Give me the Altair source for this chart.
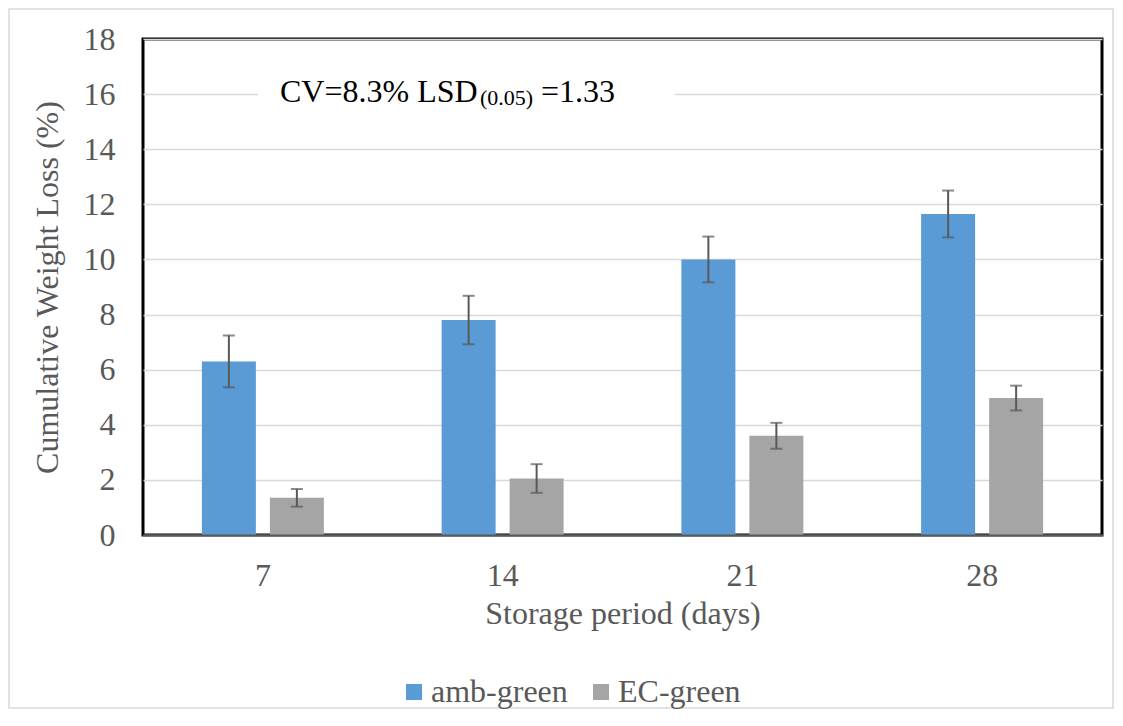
import altair as alt
import pandas as pd

days = ["7", "14", "21", "28"]
series = ["amb-green", "EC-green"]
amb_values = [6.3, 7.8, 10.0, 11.65]
ec_values = [1.35, 2.05, 3.6, 4.97]
amb_err = [0.94, 0.88, 0.83, 0.85]
ec_err = [0.32, 0.52, 0.47, 0.45]
colors = ["#5B9BD5", "#A5A5A5"]
y_ticks = [0, 2, 4, 6, 8, 10, 12, 14, 16, 18]

rows = []
for d, v, e in zip(days, amb_values, amb_err):
    rows.append({"day": d, "series": series[0], "value": v, "err": e})
for d, v, e in zip(days, ec_values, ec_err):
    rows.append({"day": d, "series": series[1], "value": v, "err": e})
df = pd.DataFrame(rows)

FONT = "'Liberation Serif', 'Times New Roman', Times, serif"
FS = 32
W, H = 959, 496

x_enc = alt.X("day:N", sort=days,
              scale=alt.Scale(paddingInner=0, paddingOuter=0),
              axis=alt.Axis(title="Storage period (days)", labelAngle=0, tickSize=0,
                            labelPadding=25, titlePadding=7, domainColor="#595959",
                            domainWidth=2, zindex=1, grid=False))
xo_enc = alt.XOffset("series:N", sort=series,
                     scale=alt.Scale(paddingInner=0.206, paddingOuter=0.866))

base = alt.Chart(df)

bars = base.mark_bar().encode(
    x=x_enc,
    xOffset=xo_enc,
    y=alt.Y("value:Q", scale=alt.Scale(domain=[0, 18], nice=False),
            axis=alt.Axis(title="Cumulative Weight Loss (%)", values=y_ticks, tickSize=0,
                          labelPadding=28, titlePadding=19, domain=False,
                          gridColor="#D9D9D9", gridWidth=1.5)),
    color=alt.Color("series:N", sort=series,
                    scale=alt.Scale(domain=series, range=colors),
                    legend=alt.Legend(title=None, orient="none", direction="horizontal",
                                      legendX=255, legendY=637, symbolType="square",
                                      symbolSize=256, symbolStrokeWidth=0,
                                      labelFont=FONT, labelFontSize=FS, labelColor="#595959",
                                      labelOffset=1, columnPadding=17, padding=0)),
)

err = base.transform_calculate(
    lo="datum.value - datum.err", hi="datum.value + datum.err"
)
rules = err.mark_rule(color="#595959", strokeWidth=2).encode(
    x=alt.X("day:N", sort=days), xOffset=alt.XOffset("series:N", sort=series),
    y="lo:Q", y2="hi:Q")
caps_hi = err.mark_tick(color="#595959", thickness=2, size=12, orient="horizontal").encode(
    x=alt.X("day:N", sort=days), xOffset=alt.XOffset("series:N", sort=series), y="hi:Q")
caps_lo = err.mark_tick(color="#595959", thickness=2, size=12, orient="horizontal").encode(
    x=alt.X("day:N", sort=days), xOffset=alt.XOffset("series:N", sort=series), y="lo:Q")

one = alt.Chart(pd.DataFrame({"a": [0]}))
outer = one.mark_rect(filled=False, stroke="#D9D9D9", strokeWidth=1.5).encode(
    x=alt.value(-134), x2=alt.value(970), y=alt.value(-30), y2=alt.value(669))
box = one.mark_rect(fill="white").encode(
    x=alt.value(115), x2=alt.value(532), y=alt.value(21), y2=alt.value(91))
t1 = one.mark_text(text="CV=8.3% LSD", font=FONT, fontSize=FS, align="left",
                   baseline="alphabetic", color="black").encode(x=alt.value(137), y=alt.value(63))
t2 = one.mark_text(text="(0.05)", font=FONT, fontSize=22, align="left",
                   baseline="alphabetic", color="black").encode(x=alt.value(337), y=alt.value(66))
t3 = one.mark_text(text="=1.33", font=FONT, fontSize=FS, align="left",
                   baseline="alphabetic", color="black").encode(x=alt.value(398), y=alt.value(63))

chart = alt.layer(outer, bars, rules, caps_hi, caps_lo, box, t1, t2, t3).properties(
    width=W, height=H,
    autosize=alt.AutoSizeParams(type="none"),
    padding={"left": 135, "top": 31, "right": 13, "bottom": 175},
).configure_view(stroke="black", strokeWidth=3).configure_axis(
    labelFont=FONT, labelFontSize=FS, labelColor="#595959",
    titleFont=FONT, titleFontSize=FS, titleColor="#595959", titleFontWeight="normal",
)

chart.save("out.html", embed_options={"renderer": "svg", "actions": False})
